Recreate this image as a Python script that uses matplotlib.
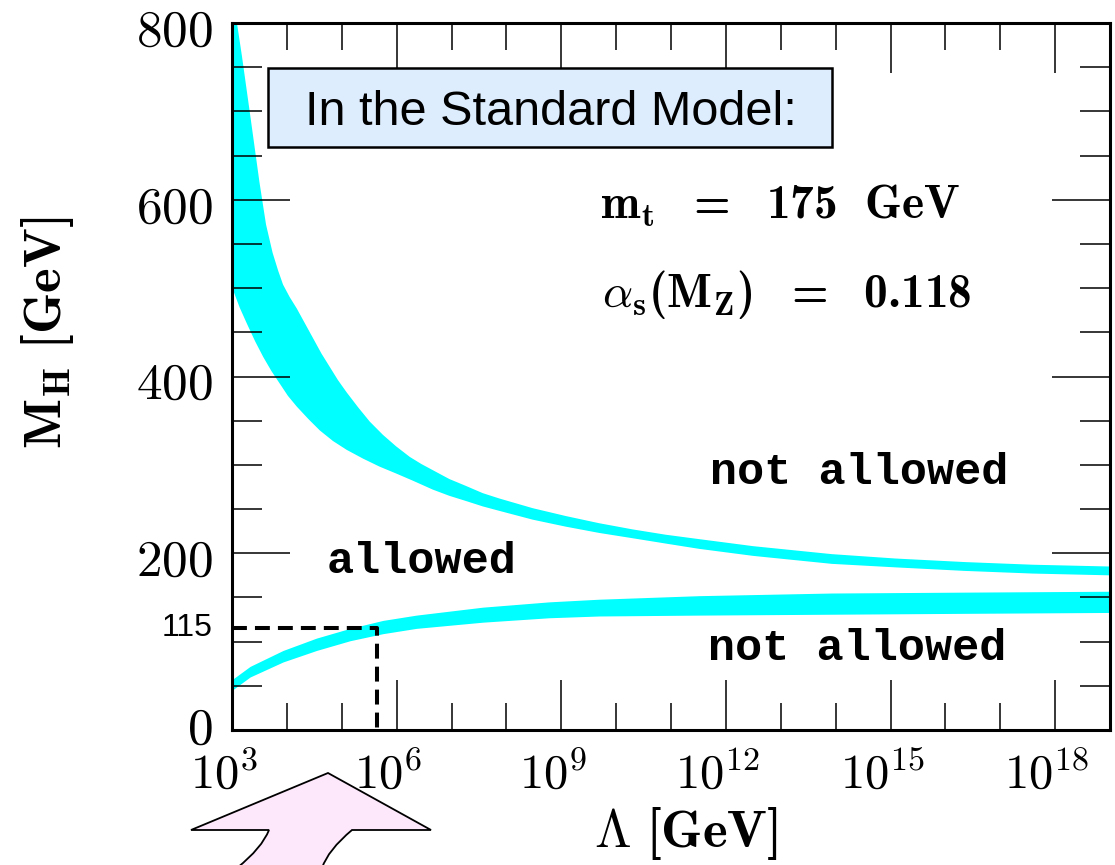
import numpy as np
import matplotlib
matplotlib.use("Agg")
import matplotlib.pyplot as plt
import matplotlib.transforms as mtransforms
from matplotlib.patches import Rectangle, PathPatch
from matplotlib.path import Path
from matplotlib.ticker import FixedLocator, MultipleLocator, NullFormatter

plt.rcParams["mathtext.fontset"] = "cm"
# bold Computer Modern set used for labels written entirely in bold
plt.rcParams["mathtext.rm"] = "cmb10"
plt.rcParams["mathtext.bf"] = "cmb10"
plt.rcParams["mathtext.it"] = "cmmi10"

# ---- data -------------------------------------------------------------
# Triviality bound (upper band): log10(Lambda / GeV) and M_H [GeV]
triv_hi_logL = [3.00, 3.10, 3.18, 3.34, 3.50, 3.62, 3.74, 3.84, 3.93, 4.05,
                4.18, 4.33, 4.48, 4.63, 4.78, 4.93, 5.09, 5.30, 5.51, 5.75,
                5.99, 6.24, 6.45, 6.66, 6.96, 7.27, 7.57, 7.87, 8.48, 9.09,
                9.69, 10.3, 10.9, 11.51, 12.5, 13.93, 15.1, 16.36, 17.6, 19.0]
triv_hi_MH = [835, 796, 763, 692, 620, 572, 540, 520, 504, 490,
              477, 460, 443, 426, 411, 396, 382, 365, 349, 334,
              321, 309, 301, 294, 284, 276, 268, 262, 251, 242,
              234, 227, 221, 216, 208, 199, 194, 190, 187, 185]
triv_lo_logL = [3.00, 3.14, 3.27, 3.42, 3.57, 3.72, 3.87, 4.02, 4.18, 4.39,
                4.60, 4.84, 5.09, 5.39, 5.69, 6.00, 6.30, 6.66, 6.96, 7.27,
                7.57, 7.87, 8.48, 9.09, 9.69, 10.3, 10.9, 11.51, 12.5, 13.93,
                15.1, 16.36, 17.6, 19.0]
triv_lo_MH = [501, 478, 460, 440, 422, 406, 392, 378, 366, 352,
              339, 327, 317, 307, 298, 290, 282, 272, 265, 259,
              253, 248, 238, 230, 223, 217, 211, 205, 197, 188,
              184, 180, 177, 175]

# Vacuum stability bound (lower band)
stab_logL = [3.00, 3.33, 3.93, 4.54, 5.15, 5.75, 6.36, 7.57, 8.78, 9.69,
             11.51, 13.93, 16.36, 19.0]
stab_hi_MH = [57, 72, 90, 104, 115, 124, 130, 139, 145, 148,
              152, 155, 156, 157]
stab_lo_MH = [45, 60, 77, 90, 101, 109, 115, 122, 127, 129,
              130, 131, 132, 133]

# Reference Higgs mass and the scale where it meets the stability band
MH_REF = 115
LAMBDA_REF = 4.4e5

XTICK_EXP = [3, 6, 9, 12, 15, 18]
XMINOR_EXP = list(range(3, 20))
YTICKS = [0, 200, 400, 600, 800]

LAMBDA_MIN, LAMBDA_MAX = 1e3, 1e19
MH_MIN, MH_MAX = 0, 800

# ---- figure -----------------------------------------------------------
W, H = 1115, 865
fig = plt.figure(figsize=(W / 100, H / 100), dpi=100)


def fx(px):
    return px / W


def fy(py):
    return 1 - py / H


ax = fig.add_axes([fx(232), fy(730), (1110 - 232) / W, (730 - 23) / H])
ax.set_xscale("log")
ax.set_xlim(LAMBDA_MIN, LAMBDA_MAX)
ax.set_ylim(MH_MIN, MH_MAX)

band_color = "#00ffff"
tx = 10.0 ** np.asarray(triv_hi_logL)
bx = 10.0 ** np.asarray(triv_lo_logL)
ax.fill(np.concatenate([tx, bx[::-1]]),
        np.concatenate([triv_hi_MH, triv_lo_MH[::-1]]),
        color=band_color, lw=0, zorder=1)
sx = 10.0 ** np.asarray(stab_logL)
ax.fill_between(sx, stab_lo_MH, stab_hi_MH, color=band_color, lw=0, zorder=1)

# dashed guide at M_H = 115 GeV
guide, = ax.plot([LAMBDA_MIN, LAMBDA_REF, LAMBDA_REF], [MH_REF, MH_REF, MH_MIN],
                 color="black", lw=2.9, zorder=3, clip_on=False)
guide.set_dashes((3.7, 2.0))

# axes frame and ticks
for sp in ax.spines.values():
    sp.set_linewidth(2.2)
ax.set_xticks(10.0 ** np.asarray(XTICK_EXP))
ax.set_xticklabels([rf"$10^{{{e}}}$" for e in XTICK_EXP], fontsize=35)
ax.xaxis.set_minor_locator(FixedLocator(10.0 ** np.asarray(XMINOR_EXP)))
ax.xaxis.set_minor_formatter(NullFormatter())
ax.set_yticks(YTICKS)
ax.set_yticklabels([rf"${v}$" for v in YTICKS], fontsize=37)
ax.yaxis.set_minor_locator(MultipleLocator(50))

ax.tick_params(which="both", direction="in", top=True, right=True,
               width=1.1, color="black")
ax.tick_params(axis="y", which="major", length=42, pad=14)
ax.tick_params(axis="y", which="minor", length=21.5)
ax.tick_params(axis="x", which="major", length=36, pad=15)
ax.tick_params(axis="x", which="minor", length=19.5)

shift = mtransforms.ScaledTranslation(-8 / 100, 0, fig.dpi_scale_trans)
for lab in ax.get_xticklabels():
    lab.set_transform(lab.get_transform() + shift)
ylabs = ax.get_yticklabels()
for lab in ylabs[1:]:
    lab.set_transform(lab.get_transform()
                      + mtransforms.ScaledTranslation(0, -3 / 100, fig.dpi_scale_trans))
ylabs[0].set_transform(ylabs[0].get_transform()
                       + mtransforms.ScaledTranslation(0, 6 / 100, fig.dpi_scale_trans))

# 115 marker on the mass axis
ax.text(-0.022, MH_REF, "115", transform=ax.get_yaxis_transform(),
        ha="right", va="center", fontsize=23, family="Liberation Sans")

# axis titles (bold Computer Modern)
fig.text(fx(48), fy(333), r"$\mathrm{M_H\ [GeV]}$", rotation=90,
         ha="center", va="center", fontsize=38, math_fontfamily="custom")
fig.text(fx(686), fy(833), r"$\Lambda\ \mathrm{[GeV]}$",
         ha="center", va="center", fontsize=38, math_fontfamily="custom")


# region labels and parameters (axes fraction positions)
def axf(px, py):
    return ((px - 232) / 878, (730 - py) / 707)


mono = dict(family="Liberation Mono", weight="bold", fontsize=32.5,
            ha="left", va="baseline", transform=ax.transAxes)
ax.text(*axf(327, 573), "allowed", **mono)
ax.text(*axf(710, 484), "not allowed", **mono)
ax.text(*axf(708, 660), "not allowed", **mono)

par = dict(fontsize=34, ha="left", va="baseline", transform=ax.transAxes,
           math_fontfamily="custom")
ax.text(*axf(600, 219), r"$\mathrm{m_t\ \ =\ \ 175\ \ GeV}$", **par)
ax.text(*axf(602, 307), r"$\alpha_\mathrm{s}\mathrm{(M_Z)\ \ =\ \ 0.118}$", **par)

# title box
fig.patches.append(Rectangle((fx(268), fy(147)), (832 - 268) / W, (147 - 68) / H,
                             transform=fig.transFigure, facecolor="#deedfd",
                             edgecolor="black", lw=1.8, zorder=5))
fig.text(fx(551), fy(125), "In the Standard Model:", ha="center", va="baseline",
         fontsize=35, family="Liberation Sans", zorder=6)

# pointing arrow below the axis
verts = [(328, 773), (431, 830), (352, 830), (328, 850), (322, 868),
         (237, 868), (262, 848), (269, 830), (191, 830), (328, 773)]
codes = [Path.MOVETO, Path.LINETO, Path.LINETO, Path.CURVE3, Path.CURVE3,
         Path.LINETO, Path.CURVE3, Path.CURVE3, Path.LINETO, Path.CLOSEPOLY]
arrow_path = Path([(fx(x), fy(y)) for x, y in verts], codes)
fig.patches.append(PathPatch(arrow_path, transform=fig.transFigure,
                             facecolor="#fde8fb", edgecolor="black", lw=1.3,
                             zorder=4))

fig.savefig("out.png", dpi=100)
